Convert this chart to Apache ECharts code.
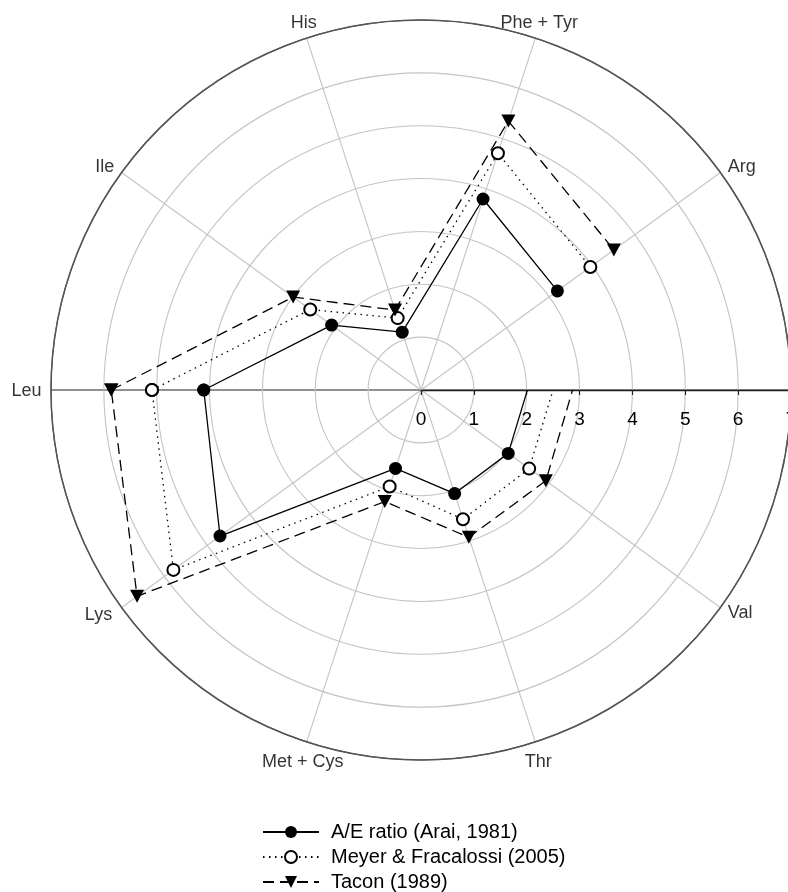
<!DOCTYPE html>
<html><head><meta charset="utf-8">
<script src="https://cdn.jsdelivr.net/npm/echarts@6/dist/echarts.min.js"></script>
<style>html,body{margin:0;padding:0;background:#fff}#c{width:788px;height:892px}</style>
</head><body><div id="c"></div>
<script>
// Angle axis categories, clockwise from the right-hand horizontal axis (the unlabeled 0° spoke)
const angleCategories = ['', 'Val', 'Thr', 'Met + Cys', 'Lys', 'Leu', 'Ile', 'His', 'Phe + Tyr', 'Arg'];
// Order in which each series polygon is drawn
const polygonOrder = ['Leu', 'Ile', 'His', 'Phe + Tyr', 'Arg', 'Val', 'Thr', 'Met + Cys', 'Lys'];
const araiValues  = [4.11, 2.09, 1.15, 3.80, 3.19, 2.04, 2.06, 1.56, 4.70];
const meyerValues = [5.09, 2.59, 1.43, 4.71, 3.96, 2.53, 2.57, 1.92, 5.79];
const taconValues = [5.86, 2.99, 1.59, 5.35, 4.51, 2.92, 2.93, 2.22, 6.64];
const radiusTickLabels = ['0', '1', '2', '3', '4', '5', '6', '7'];
const seriesNames = ['A/E ratio (Arai, 1981)', 'Meyer & Fracalossi (2005)', 'Tacon (1989)'];

const RADIUS_MIN = 0, RADIUS_MAX = 7, RADIUS_STEP = 1;
const FONT = '"Liberation Sans", Arial, sans-serif';
const GRID = '#c4c4c4';
const CENTER = [421, 390], RADIUS = 370;

// label placement (style only)
const labelPlacement = {
  'Leu':       { position: 'left',   distance: 9,  offset: [0, 1] },
  'Ile':       { position: 'left',   distance: 7,  offset: [0, -5] },
  'His':       { position: 'top',    distance: 6,  offset: [-3, 0] },
  'Phe + Tyr': { position: 'top',    distance: 6,  offset: [4, 0] },
  'Arg':       { position: 'right',  distance: 7,  offset: [0, -5] },
  'Val':       { position: 'right',  distance: 7,  offset: [0, 6] },
  'Thr':       { position: 'bottom', distance: 11, offset: [3, 0] },
  'Met + Cys': { position: 'bottom', distance: 11, offset: [-4, 0] },
  'Lys':       { position: 'left',   distance: 9,  offset: [0, 8] }
};

function closedRing(values) {
  const d = polygonOrder.map((c, i) => [values[i], angleCategories.indexOf(c)]);
  d.push(d[0].slice());
  return d;
}

const spokeColors = angleCategories.map((c, i) => (i === 0 || c === 'Leu') ? '#222' : GRID);
const ringColors = radiusTickLabels.map((t, i) => i === radiusTickLabels.length - 1 ? '#555' : GRID);

const chart = echarts.init(document.getElementById('c'), null, { renderer: 'canvas' });
chart.setOption({
  animation: false,
  backgroundColor: '#fff',
  polar: [
    { center: CENTER, radius: RADIUS },   // data + spokes
    { center: CENTER, radius: RADIUS }    // full rings + radial scale
  ],
  angleAxis: [
    {
      polarIndex: 0,
      type: 'category',
      data: angleCategories,
      startAngle: 0,
      clockwise: true,
      boundaryGap: false,
      axisLine: { show: false },
      axisTick: { show: false },
      axisLabel: { show: false },
      splitLine: { show: true, lineStyle: { color: spokeColors, width: 1.1 } },
      z: 1
    },
    {
      polarIndex: 1,
      type: 'value', min: 0, max: 360, startAngle: 0,
      axisLine: { show: true, lineStyle: { color: '#555', width: 1.5 } },
      axisTick: { show: false },
      axisLabel: { show: false },
      splitLine: { show: false },
      z: 1
    }
  ],
  radiusAxis: [
    {
      polarIndex: 0,
      type: 'value', min: RADIUS_MIN, max: RADIUS_MAX, interval: RADIUS_STEP,
      axisLine: { show: false }, axisTick: { show: false },
      axisLabel: { show: false }, splitLine: { show: false }
    },
    {
      polarIndex: 1,
      type: 'value',
      min: RADIUS_MIN, max: RADIUS_MAX, interval: RADIUS_STEP,
      axisLine: { show: true, lineStyle: { color: '#222', width: 1.3 } },
      axisTick: { show: true, length: -5, lineStyle: { color: '#222', width: 1.2 } },
      axisLabel: {
        show: true, margin: -30, verticalAlign: 'middle', color: '#000',
        fontSize: 19, fontFamily: FONT,
        formatter: (v) => radiusTickLabels[Math.round((v - RADIUS_MIN) / RADIUS_STEP)] ?? ''
      },
      splitLine: { show: true, lineStyle: { color: ringColors, width: 1.1 } },
      z: 2
    }
  ],
  legend: {
    data: seriesNames,
    orient: 'vertical',
    left: 257, top: 817, height: 110,
    itemWidth: 56, itemHeight: 15, itemGap: 5,
    selectedMode: false,
    textStyle: { fontSize: 20, color: '#000', fontFamily: FONT, padding: [0, 0, 0, 7] }
  },
  series: [
    {
      name: seriesNames[0], type: 'line', coordinateSystem: 'polar', polarIndex: 0,
      data: closedRing(araiValues),
      symbol: 'circle', symbolSize: 13,
      itemStyle: { color: '#000' },
      lineStyle: { color: '#000', width: 1.3, type: 'solid' },
      emphasis: { disabled: true }, z: 5
    },
    {
      name: seriesNames[1], type: 'line', coordinateSystem: 'polar', polarIndex: 0,
      data: closedRing(meyerValues),
      symbol: 'emptyCircle', symbolSize: 12,
      itemStyle: { color: '#000', borderWidth: 1.2 },
      lineStyle: { color: '#000', width: 1.3, type: [1.5, 4.5] },
      emphasis: { disabled: true }, z: 5
    },
    {
      name: seriesNames[2], type: 'line', coordinateSystem: 'polar', polarIndex: 0,
      data: closedRing(taconValues),
      symbol: 'triangle', symbolRotate: 180, symbolSize: [14, 13],
      itemStyle: { color: '#000' },
      lineStyle: { color: '#000', width: 1.3, type: [11, 6] },
      emphasis: { disabled: true }, z: 5
    },
    {
      name: 'categoryLabels', type: 'scatter', coordinateSystem: 'polar', polarIndex: 0,
      silent: true, symbolSize: 1, itemStyle: { color: 'transparent' },
      label: { show: true, formatter: '{b}', color: '#000', fontSize: 18, fontFamily: FONT },
      data: polygonOrder.map(c => ({
        name: c,
        value: [RADIUS_MAX, angleCategories.indexOf(c)],
        label: labelPlacement[c]
      })),
      emphasis: { disabled: true }, z: 6
    }
  ]
});
</script></body></html>
